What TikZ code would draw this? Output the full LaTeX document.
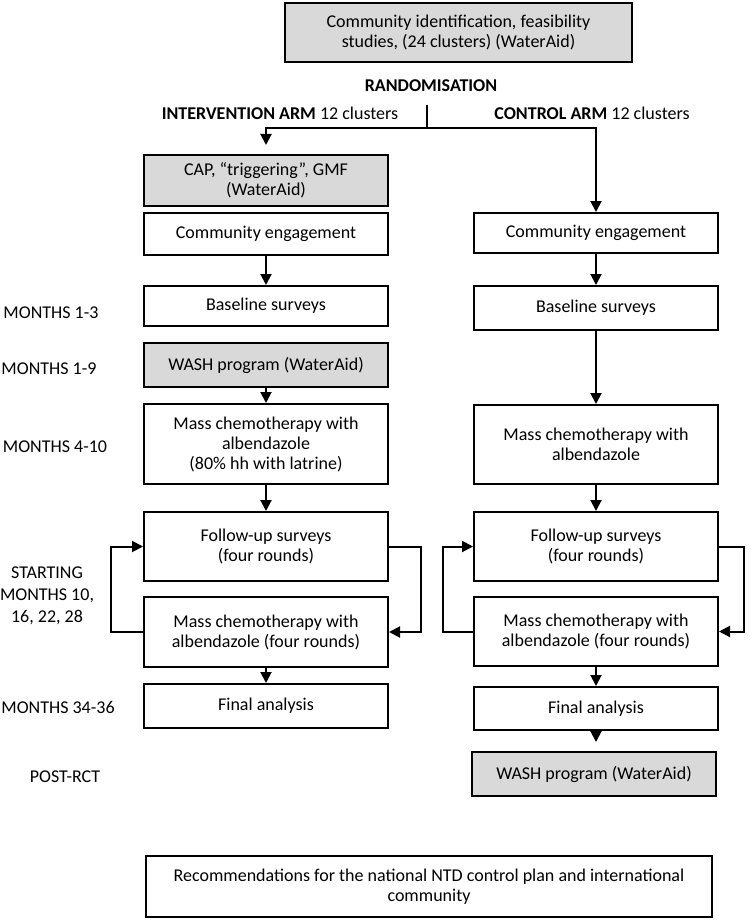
\documentclass[tikz,border=0pt]{standalone}
\usepackage{fontspec}
\setmainfont{Carlito}
\usetikzlibrary{arrows.meta}
\definecolor{boxgray}{gray}{0.85}
\begin{document}
\begin{tikzpicture}[x=1pt,y=-1pt,
  every node/.style={font=\fontsize{18}{20}\selectfont, inner sep=0pt},
  box/.style={draw, line width=2pt, align=center, minimum width=244pt},
  grey/.style={box, fill=boxgray},
  lbl/.style={align=center},
  arr/.style={line width=2pt, -{Triangle[length=11pt,width=11pt]}},
  ln/.style={line width=2pt}]
\useasboundingbox (0,0) rectangle (752,920);

% top
\node[grey, minimum width=347pt, minimum height=59pt] (top) at (458.5,32.5) {Community identification, feasibility\\studies, (24 clusters) (WaterAid)};
\node (rand) at (431,86) {\textbf{RANDOMISATION}};
\node (iarm) at (280,113) {\textbf{INTERVENTION ARM} 12 clusters};
\node (carm) at (592,113) {\textbf{CONTROL ARM} 12 clusters};

% left column
\node[grey, minimum height=51pt] (cap) at (266,180.5) {CAP, “triggering”, GMF\\(WaterAid)};
\node[box, minimum height=42pt] (lce) at (266,234) {Community engagement};
\node[box, minimum height=40pt] (lbase) at (266,306) {Baseline surveys};
\node[grey, minimum height=44pt] (lwash) at (266,365) {WASH program (WaterAid)};
\node[box, minimum height=80pt] (lmc) at (266,444) {Mass chemotherapy with\\albendazole\\(80\% hh with latrine)};
\node[box, minimum height=69pt] (lfu) at (266,546.5) {Follow-up surveys\\(four rounds)};
\node[box, minimum height=70pt] (lmc4) at (266,632) {Mass chemotherapy with\\albendazole (four rounds)};
\node[box, minimum height=44pt] (lfin) at (266,706) {Final analysis};

% right column
\node[box, minimum height=40pt] (rce) at (596,233) {Community engagement};
\node[box, minimum height=44pt] (rbase) at (596,308) {Baseline surveys};
\node[box, minimum height=79pt] (rmc) at (596,444.5) {Mass chemotherapy with\\albendazole};
\node[box, minimum height=69pt] (rfu) at (596,546.5) {Follow-up surveys\\(four rounds)};
\node[box, minimum height=69pt] (rmc4) at (596,631.5) {Mass chemotherapy with\\albendazole (four rounds)};
\node[box, minimum height=43pt] (rfin) at (596,708.5) {Final analysis};
\node[grey, minimum height=44pt] (rwash) at (594,774) {WASH program (WaterAid)};

% bottom
\node[box, minimum width=566pt, minimum height=61pt] (rec) at (429,886.5) {Recommendations for the national NTD control plan and international\\community};

% side labels
\node (m13) at (51,313) {MONTHS 1-3};
\node (m19) at (49,369) {MONTHS 1-9};
\node (m410) at (55,447) {MONTHS 4-10};
\node[lbl, font=\fontsize{18}{22}\selectfont] (mstart) at (47,596) {STARTING\\MONTHS 10,\\16, 22, 28};
\node (m3436) at (58,707) {MONTHS 34-36};
\node (post) at (65,777) {POST-RCT};

% randomisation split
\coordinate (vtop) at (427,105);
\coordinate (split) at (427,128);
\draw[ln] (vtop) -- (split);
\draw[arr, shorten >=9pt] (split) -| (cap.north);
\draw[arr] (split) -| (rce.north);

% left arrows
\draw[arr] (lce) -- (lbase);
\draw[arr] (lwash) -- (lmc);
\draw[arr] (lmc) -- (lfu);
\draw[arr] (lmc4) -- (lfin);
\draw[arr] (lmc4.west) -- ([xshift=-32pt]lmc4.west) |- (lfu.west);
\draw[arr] (lfu.east) -- ([xshift=32pt]lfu.east) |- (lmc4.east);

% right arrows
\draw[arr] (rce) -- (rbase);
\draw[arr] (rbase) -- (rmc);
\draw[arr] (rmc) -- (rfu);
\draw[arr] (rmc4) -- (rfin);
\draw[arr, shorten >=9pt] (rfin.south) -- (rfin.south |- rwash.north);
\draw[arr] (rmc4.west) -- ([xshift=-30pt]rmc4.west) |- (rfu.west);
\draw[arr] (rfu.east) -- ([xshift=25pt]rfu.east) |- (rmc4.east);
\end{tikzpicture}
\end{document}
